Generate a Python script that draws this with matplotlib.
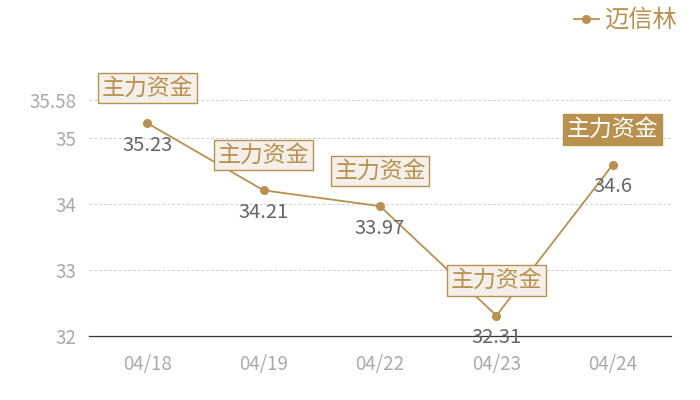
import matplotlib.pyplot as plt

plt.rcParams['font.family'] = ['Noto Sans CJK SC', 'DejaVu Sans']

# data
dates = ['04/18', '04/19', '04/22', '04/23', '04/24']
prices = [35.23, 34.21, 33.97, 32.31, 34.6]
price_labels = ['35.23', '34.21', '33.97', '32.31', '34.6']
y_ticks = [32, 33, 34, 35, 35.58]
tag_text = '主力资金'
series_name = '迈信林'

GOLD = '#b8914f'
BOX_FILL = '#f4efe8'

fig = plt.figure(figsize=(7, 4), dpi=100)
ax = fig.add_axes([89 / 700, 64 / 400, 582 / 700, 236 / 400])

x = list(range(len(dates)))
ax.plot(x, prices, color=GOLD, lw=1.3, marker='o', ms=5.5, label=series_name, zorder=3)

ax.set_xlim(-0.5, len(dates) - 0.5)
ax.set_ylim(y_ticks[0], y_ticks[-1])
ax.set_xticks(x, dates)
ax.set_yticks(y_ticks, [str(t) for t in y_ticks])
ax.tick_params(axis='both', length=0, labelsize=13.5, labelcolor='#aaaaaa')
ax.tick_params(axis='x', pad=13)
ax.tick_params(axis='y', pad=9)
ax.grid(axis='y', color='#d0d0d0', ls=(0, (3, 2)), lw=0.7)
for s in ['top', 'right', 'left']:
    ax.spines[s].set_visible(False)
ax.spines['bottom'].set_color('#333333')
ax.spines['bottom'].set_linewidth(0.9)

# value labels under each point
for i, (v, lab) in enumerate(zip(prices, price_labels)):
    ax.annotate(lab, (i, v), xytext=(0, -22), textcoords='offset pixels',
                ha='center', va='center', fontsize=14.5, color='#666666',
                annotation_clip=False, zorder=4)

# tag boxes above each point, last one highlighted
for i, v in enumerate(prices):
    last = i == len(prices) - 1
    ax.annotate(tag_text, (i, v), xytext=(0, 35), textcoords='offset pixels',
                ha='center', va='center', fontsize=16.5,
                color='white' if last else GOLD,
                bbox=dict(boxstyle='square,pad=0.16', fc=GOLD if last else BOX_FILL,
                          ec=GOLD, lw=1),
                annotation_clip=False, zorder=5)

fig.legend(loc='upper right', bbox_to_anchor=(0.999, 1.035), frameon=False,
           fontsize=17.5, labelcolor=GOLD, handlelength=1.0, handletextpad=0.25)

fig.savefig('out.png', dpi=100)
